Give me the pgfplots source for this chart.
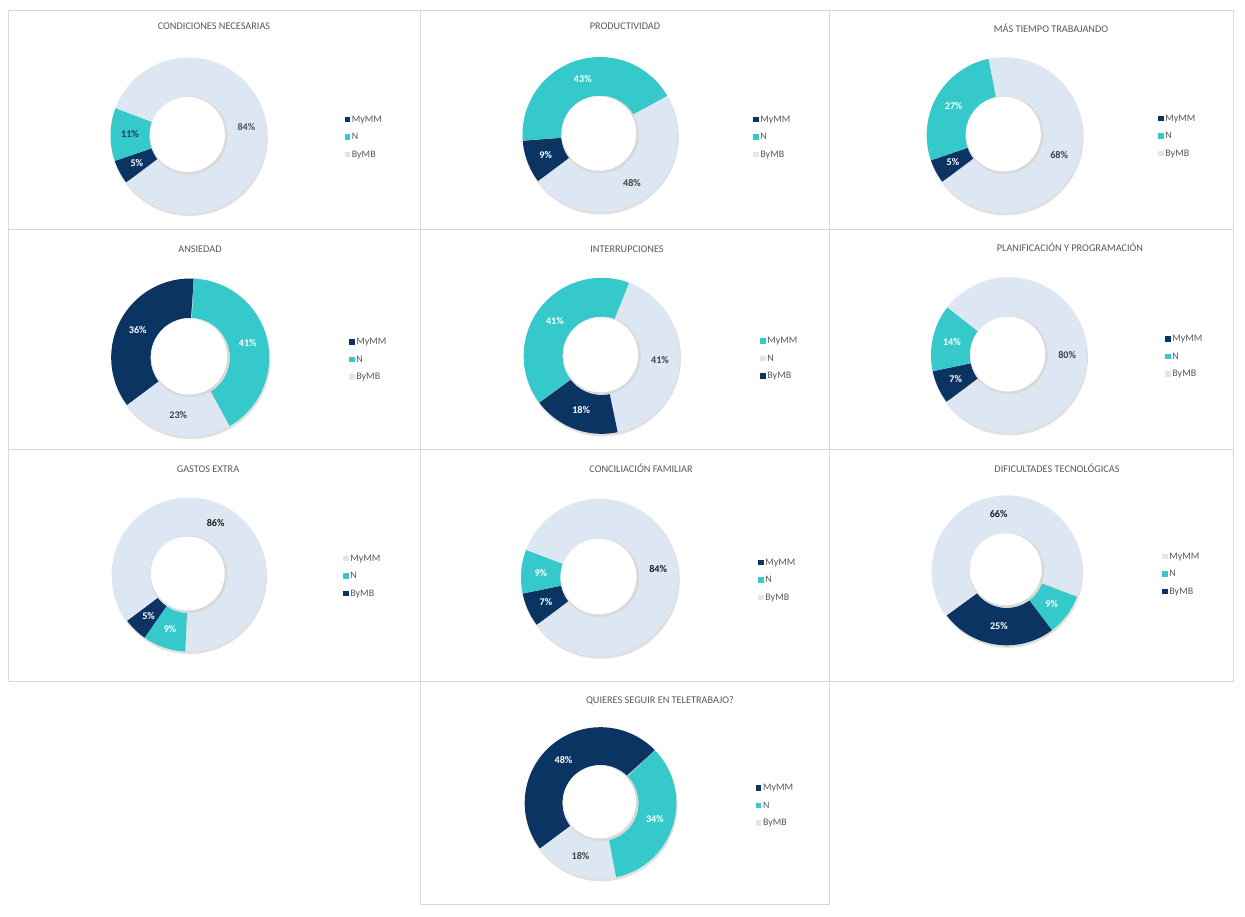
\documentclass[border=0pt]{standalone}
\usepackage{pgfplots}
\pgfplotsset{compat=1.18}
\usepackage{pgfplotstable}
\usepackage{fontspec}
\setmainfont{Carlito}

\definecolor{dkblue}{HTML}{0B3463}
\definecolor{turq}{HTML}{36C9CC}
\definecolor{ltblue}{HTML}{DDE7F3}
\definecolor{panelframe}{HTML}{D9D9D9}
\definecolor{txtgray}{HTML}{595959}
\definecolor{lblgray}{HTML}{404040}
\definecolor{lblblack}{HTML}{1A1A1A}
\definecolor{lblnavy}{HTML}{1F3864}
\definecolor{lblslate}{HTML}{44546A}

% Answer shares (in legend order) with slice colours and label colours
\pgfplotstableread{
vA vB vC cA     cB     cC     tA       tB       tC
5  11 84 dkblue turq   ltblue white    lblnavy  lblslate
9  43 48 dkblue turq   ltblue white    white    lblgray
5  27 68 dkblue turq   ltblue white    white    lblgray
36 41 23 dkblue turq   ltblue white    white    lblgray
41 41 18 turq   ltblue dkblue white    lblgray  white
7  14 80 dkblue turq   ltblue white    white    lblgray
86 9  5  ltblue turq   dkblue lblblack white    white
7  9  84 dkblue turq   ltblue white    white    lblblack
66 9  25 ltblue turq   dkblue lblblack white    white
48 34 18 dkblue turq   ltblue white    white    lblgray
}\donuts

% Panel frame (L,T,W,H), donut centre and radius, title and legend positions
\pgfplotstableread{
L   T   W   H   cx     cy    R    tx   ty  lx     ly
8   10  412 219 188.5  135.5 78   214  26  344.5  137
420 10  409 219 600    134.5 77.5 625  26  753    137
829 10  404 219 1004.5 135   77.8 1051 29  1158   136
8   229 412 220 190.2  357.5 79   200  249 349    359.5
420 229 409 220 601.7  355.8 78   627  249 760    358.5
829 229 404 220 1008.8 355   77.8 1070 248 1165   356.5
8   449 412 232 188.7  574.5 77   208  469 343    576
420 449 409 232 599.7  577.5 78.7 641  469 758    580
829 449 404 232 1006.7 570.3 75   1057 469 1162   574
420 681 409 223 600.5  803   75.8 660  700 755.7  805.5
}\layout

\newcommand{\fetch}[4]{\pgfplotstablegetelem{#1}{#2}\of{#3}\let#4\pgfplotsretval}

\pgfplotsset{
  panel/.style={
    scale only axis, anchor=north west, y dir=reverse,
    xtick=\empty, ytick=\empty, clip=false,
    axis line style={draw=panelframe, line width=0.8bp},
    legend cell align=left,
    legend style={draw=none, fill=none, inner sep=0pt, outer sep=0pt,
      font=\fontsize{10}{11}\selectfont, text=txtgray, row sep=7.9bp,
      column sep=1.2bp,
      nodes={inner sep=0.6bp, text height=6.8bp, text depth=1.6bp}},
    legend image code/.code={\fill[##1] (0bp,-2.8bp) rectangle (5.6bp,2.8bp);},
  },
}
\tikzset{
  pct/.style={font=\bfseries\fontsize{10.2}{12}\selectfont, inner sep=0pt,
    text height=6.5bp, text depth=0pt, anchor=center},
}

% One annular slice between two clockwise angles (degrees from 12 o'clock)
\newcommand{\seg}[3]{%
  \addplot[fill=#3, draw=none, domain=0:2, samples=181]
    ({\cx + \R*(1-0.5*(x>1))*sin(#1+(#2-#1)*(1-abs(1-x)))},
     {\cy - \R*(1-0.5*(x>1))*cos(#1+(#2-#1)*(1-abs(1-x)))});
}

\newcommand{\donutpanel}[2]{%
  \fetch{#1}{L}{\layout}\pL \fetch{#1}{T}{\layout}\pT
  \fetch{#1}{W}{\layout}\pW \fetch{#1}{H}{\layout}\pH
  \fetch{#1}{cx}{\layout}\cx \fetch{#1}{cy}{\layout}\cy
  \fetch{#1}{R}{\layout}\R
  \fetch{#1}{tx}{\layout}\tx \fetch{#1}{ty}{\layout}\ty
  \fetch{#1}{lx}{\layout}\lx \fetch{#1}{ly}{\layout}\ly
  \fetch{#1}{vA}{\donuts}\vA \fetch{#1}{vB}{\donuts}\vB \fetch{#1}{vC}{\donuts}\vC
  \fetch{#1}{cA}{\donuts}\cA \fetch{#1}{cB}{\donuts}\cB \fetch{#1}{cC}{\donuts}\cC
  \fetch{#1}{tA}{\donuts}\tA \fetch{#1}{tB}{\donuts}\tB \fetch{#1}{tC}{\donuts}\tC
  \pgfmathsetmacro\pRt{\pL+\pW}%
  \pgfmathsetmacro\pBt{\pT+\pH}%
  \pgfmathsetmacro\tot{\vA+\vB+\vC}%
  \pgfmathsetmacro\aA{233}%
  \pgfmathsetmacro\aB{\aA+\vA/\tot*360}%
  \pgfmathsetmacro\aC{\aB+\vB/\tot*360}%
  \pgfmathsetmacro\aD{\aA+360}%
  \pgfmathsetmacro\xA{\cx+0.75*\R*sin((\aA+\aB)/2)}%
  \pgfmathsetmacro\yA{\cy-0.75*\R*cos((\aA+\aB)/2)}%
  \pgfmathsetmacro\xB{\cx+0.75*\R*sin((\aB+\aC)/2)}%
  \pgfmathsetmacro\yB{\cy-0.75*\R*cos((\aB+\aC)/2)}%
  \pgfmathsetmacro\xC{\cx+0.75*\R*sin((\aC+\aD)/2)}%
  \pgfmathsetmacro\yC{\cy-0.75*\R*cos((\aC+\aD)/2)}%
  \pgfmathsetmacro\sx{\cx+0.8}%
  \pgfmathsetmacro\sy{\cy+2}%
  \pgfmathsetmacro\Rs{\R+0.5}%
  \pgfmathsetmacro\rh{0.5*\R}%
  \pgfmathsetmacro\rw{0.5*\R-1.5}%
  \pgfmathsetmacro\hx{\cx-1}%
  \pgfmathsetmacro\hy{\cy-1}%
  \begin{axis}[panel, at={(\pL bp,-\pT bp)}, width=\pW bp, height=\pH bp,
      xmin=\pL, xmax=\pRt, ymin=\pT, ymax=\pBt,
      legend style={at={(axis cs:\lx,\ly)}, anchor=west}]
    % soft drop shadow under the ring
    \fill[black, opacity=0.12] (axis cs:\sx,\sy) circle[radius=\Rs];
    \seg{\aA}{\aB}{\cA}
    \addlegendentry{MyMM}
    \seg{\aB}{\aC}{\cB}
    \addlegendentry{N}
    \seg{\aC}{\aD}{\cC}
    \addlegendentry{ByMB}
    % inner shadow of the hole
    \fill[gray!30] (axis cs:\cx,\cy) circle[radius=\rh];
    \fill[white] (axis cs:\hx,\hy) circle[radius=\rw];
    \node[font=\fontsize{10.3}{12}\selectfont, text=txtgray, inner sep=0pt,
      text height=6.6bp, text depth=0pt, anchor=center] at (axis cs:\tx,\ty) {#2};
    \node[pct, text=\tA] at (axis cs:\xA,\yA) {\vA\%};
    \node[pct, text=\tB] at (axis cs:\xB,\yB) {\vB\%};
    \node[pct, text=\tC] at (axis cs:\xC,\yC) {\vC\%};
  \end{axis}
}

\begin{document}
\begin{tikzpicture}
  \path[use as bounding box, fill=white] (0bp,0bp) rectangle (1245bp,-917bp);
  \donutpanel{0}{CONDICIONES NECESARIAS}
  \donutpanel{1}{PRODUCTIVIDAD}
  \donutpanel{2}{MÁS TIEMPO TRABAJANDO}
  \donutpanel{3}{ANSIEDAD}
  \donutpanel{4}{INTERRUPCIONES}
  \donutpanel{5}{PLANIFICACIÓN Y PROGRAMACIÓN}
  \donutpanel{6}{GASTOS EXTRA}
  \donutpanel{7}{CONCILIACIÓN FAMILIAR}
  \donutpanel{8}{DIFICULTADES TECNOLÓGICAS}
  \donutpanel{9}{QUIERES SEGUIR EN TELETRABAJO?}
\end{tikzpicture}
\end{document}
